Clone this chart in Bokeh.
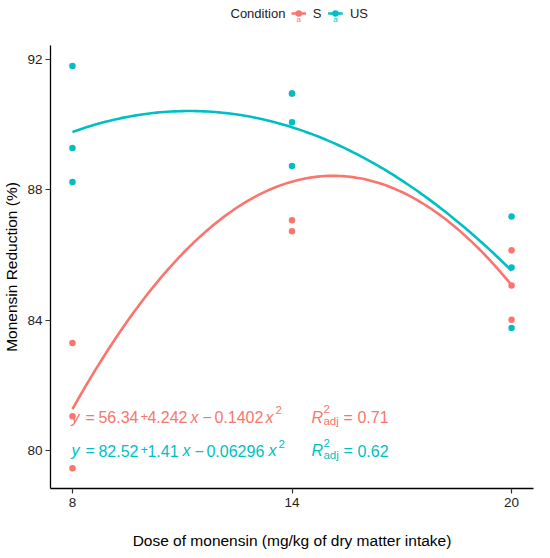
import numpy as np
from bokeh.plotting import figure
from bokeh.layouts import column
from bokeh.models import ColumnDataSource, FixedTicker
from bokeh.core.properties import value
from bokeh.embed import file_html
from bokeh.resources import INLINE

# ---- data ----
dose_ticks = [8, 14, 20]
y_ticks = [80, 84, 88, 92]

dose_s = [8, 8, 8, 14, 14, 14, 20, 20, 20]
reduction_s = [83.31, 81.06, 79.47, 90.95, 87.07, 86.73, 86.15, 85.07, 84.02]
dose_us = [8, 8, 8, 14, 14, 14, 20, 20, 20]
reduction_us = [91.79, 89.28, 88.24, 90.95, 90.07, 88.73, 87.18, 85.62, 83.77]

conditions = ["S", "US"]
legend_title = "Condition"

eq_s_parts = ["y", "=", "56.34", "+", "4.242", "x", "\u2212", "0.1402", "x", "2",
              "R", "2", "adj", "=", "0.71"]
eq_us_parts = ["y", "=", "82.52", "+", "1.41", "x", "\u2212", "0.06296", "x", "2",
               "R", "2", "adj", "=", "0.62"]

RED = "#F8766D"
TEAL = "#00BFC4"
COLORS = [RED, TEAL]
FONT = "Liberation Sans"

# ---------------- legend strip ----------------
LH = 26
leg = figure(width=534, height=LH, output_backend="svg", toolbar_location=None,
             x_range=(0, 534), y_range=(0, LH), min_border=0,
             x_axis_type=None, y_axis_type=None)
leg.grid.visible = False
leg.outline_line_color = None
ly = LH - 13
leg.text(x=[199], y=[ly], text=[legend_title], text_font=value(FONT),
         text_font_size="13px", text_color="#222222", text_baseline="middle",
         text_align="left")
key_x = [274.5, 315.0]
lab_x = [290.0, 331.0]
for kx, lx, lab, col in zip(key_x, lab_x, conditions, COLORS):
    leg.segment(x0=[kx - 8], y0=[ly], x1=[kx + 8], y1=[ly], line_color=col,
                line_width=2.6)
    leg.scatter(x=[kx], y=[ly], size=6.5, color=col, line_color=None)
    leg.text(x=[kx], y=[ly - 1], text=["a"], text_font=value(FONT),
             text_font_size="8px", text_color=col, text_baseline="top",
             text_align="center")
    leg.text(x=[lx], y=[ly], text=[lab], text_font=value(FONT),
             text_font_size="13px", text_color="#222222", text_baseline="middle",
             text_align="left")

# ---------------- main plot ----------------
p = figure(width=534, height=525, output_backend="svg", toolbar_location=None,
           x_range=(7.4, 20.6), y_range=(78.85, 92.42),
           min_border_left=41, min_border_right=1, min_border_top=19,
           min_border_bottom=62)
p.outline_line_color = None
p.grid.visible = False
p.background_fill_color = "white"

# fitted quadratic curves (least squares from the points)
xs = np.linspace(8, 20, 121)
cs = np.polyfit(dose_s, reduction_s, 2)
cu = np.polyfit(dose_us, reduction_us, 2)
p.line(xs, np.polyval(cs, xs), line_color=RED, line_width=2.6)
p.line(xs, np.polyval(cu, xs), line_color=TEAL, line_width=2.6)

p.scatter(dose_s, reduction_s, size=6.5, color=RED, line_color=None)
p.scatter(dose_us, reduction_us, size=6.5, color=TEAL, line_color=None)

# equation labels
offs_s = [-1, 13, 26, 68, 75, 118, 130, 142, 193, 203, 239, 251, 251, 271, 285]
offs_us = [-1, 13, 26, 68, 75, 110, 122, 134, 196, 206, 239, 251, 251, 271, 285]
yoff = [0, 0, 0, -1, 0, 0, 0, 0, 0, -7, 0, -8, 4, 0, 0]
M, S = "16px", "11.5px"
sizes = [M, M, M, "13px", M, M, M, M, M, S, M, S, S, M, M]
styles = ["italic", "normal", "normal", "normal", "normal", "italic", "normal", "normal",
          "italic", "normal", "italic", "normal", "normal", "normal", "normal"]

for parts, offs, yv, col in [(eq_s_parts, offs_s, 81.03, RED),
                             (eq_us_parts, offs_us, 80.0, TEAL)]:
    src = ColumnDataSource(dict(x=[dose_ticks[0]] * len(parts), y=[yv] * len(parts),
                                text=parts, xo=offs, yo=yoff, fs=sizes, st=styles))
    p.text(x="x", y="y", text="text", x_offset="xo", y_offset="yo",
           text_font_size="fs", text_font_style="st", source=src,
           text_font=value(FONT), text_color=col, text_baseline="alphabetic",
           text_align="left")

# axes
for ax in (p.xaxis[0], p.yaxis[0]):
    ax.axis_line_color = "black"
    ax.axis_line_width = 1.3
    ax.major_tick_line_color = "#333333"
    ax.major_tick_line_width = 1.2
    ax.major_tick_out = 5
    ax.major_tick_in = 0
    ax.minor_tick_line_color = None
    ax.major_label_text_font = FONT
    ax.major_label_text_font_size = "13.5px"
    ax.major_label_text_color = "#222222"
    ax.axis_label_text_font = FONT
    ax.axis_label_text_font_size = "15.5px"
    ax.axis_label_text_font_style = "normal"
    ax.axis_label_text_color = "black"

p.xaxis.ticker = FixedTicker(ticks=dose_ticks)
p.yaxis.ticker = FixedTicker(ticks=y_ticks)
p.xaxis.axis_label = "Dose of monensin (mg/kg of dry matter intake)"
p.yaxis.axis_label = "Monensin Reduction (%)"
p.xaxis.major_label_standoff = 4
p.xaxis.axis_label_standoff = 22
p.yaxis.major_label_standoff = 3
p.yaxis.axis_label_standoff = 4

layout = column(leg, p, spacing=0)
open("out.html", "w").write(file_html(layout, INLINE))
